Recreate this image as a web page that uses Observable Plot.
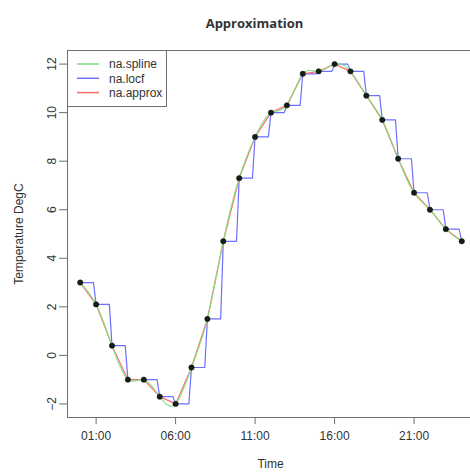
<!DOCTYPE html>
<html>
<head>
<meta charset="utf-8">
<script src="https://cdn.jsdelivr.net/npm/d3@7"></script>
<script src="https://cdn.jsdelivr.net/npm/@observablehq/plot@0.6"></script>
<style>
  html, body { margin: 0; padding: 0; background: #fff; }
  #chart svg { display: block; }
</style>
</head>
<body>
<div id="chart"></div>
<script>
// ---- data ----
const hours = [0, 1, 2, 3, 4, 5, 6, 7, 8, 9, 10, 11, 12, 13, 14, 15, 16, 17, 18, 19, 20, 21, 22, 23, 24];
const temps = [3.0, 2.1, 0.4, -1.0, -1.0, -1.7, -2.0, -0.5, 1.5, 4.7, 7.3, 9.0, 10.0, 10.3, 11.6, 11.7, 12.0, 11.7, 10.7, 9.7, 8.1, 6.7, 6.0, 5.2, 4.7];
const seriesNames = ["na.spline", "na.locf", "na.approx"];
const xTickHours = [1, 6, 11, 16, 21];
const yTickValues = [-2, 0, 2, 4, 6, 8, 10, 12];
const titleText = "Approximation";
const xLabel = "Time";
const yLabel = "Temperature DegC";

// locf is evaluated on a 10-minute grid: the last carried value holds until 10 min before the next reading
const LOCF_SAMPLE = 1 / 6;

// ---- styles ----
const seriesColors = {"na.spline": "#7ee07e", "na.locf": "#6e6eff", "na.approx": "#ff6e6e"};
const axisGray = "#6e6e6e";
const textColor = "#333";

// ---- derived tables ----
const obs = hours.map((t, i) => ({t, v: temps[i]}));
const locf = obs.flatMap((d, i) => i < obs.length - 1 ? [d, {t: obs[i + 1].t - LOCF_SAMPLE, v: d.v}] : [d]);
const fmtHour = h => String(h).padStart(2, "0") + ":00";

const W = 470, H = 475, mL = 67, mT = 50, mR = 0, mB = 58;

const chart = Plot.plot({
  width: W, height: H,
  marginLeft: mL, marginTop: mT, marginRight: mR, marginBottom: mB,
  style: {fontFamily: "'Liberation Sans', Arial, sans-serif", fontSize: "12px", color: textColor, background: "#fff", overflow: "visible"},
  x: {domain: [-0.8, 24.55]},
  y: {domain: [-2.56, 12.56]},
  marks: [
    Plot.axisX(xTickHours, {tickSize: 7, tickPadding: 7, tickFormat: fmtHour, stroke: axisGray, fill: textColor, label: null, fontSize: 12}),
    Plot.axisY(yTickValues, {tickSize: 8, tickPadding: 4, tickRotate: -90, stroke: axisGray, fill: textColor, label: null, fontSize: 12}),
    Plot.line(locf, {x: "t", y: "v", stroke: seriesColors["na.locf"], strokeWidth: 1.2}),
    Plot.line(obs, {x: "t", y: "v", stroke: seriesColors["na.approx"], strokeWidth: 1.2}),
    Plot.line(obs, {x: "t", y: "v", curve: "natural", stroke: seriesColors["na.spline"], strokeWidth: 1.2, strokeOpacity: 0.9}),
    Plot.dot(obs, {x: "t", y: "v", r: 2.7, fill: "#122012", stroke: "#0a140a", strokeWidth: 0.5}),
    Plot.frame({stroke: axisGray, strokeWidth: 1}),
    Plot.text([titleText], {frameAnchor: "top-left", textAnchor: "middle", dx: 187, dy: -32, fontFamily: "'Open Sans', sans-serif", fontWeight: "bold", fontSize: 13, fill: "#333"}),
    Plot.text([xLabel], {frameAnchor: "bottom", textAnchor: "middle", dx: 1.5, dy: 50, fontSize: 12, fill: textColor}),
    Plot.text([yLabel], {frameAnchor: "left", textAnchor: "middle", dx: -48, rotate: -90, fontSize: 12, fill: textColor})
  ]
});

document.getElementById("chart").appendChild(chart);

// ---- legend (top-left inside the plot box) ----
const svg = d3.select(chart);
const lg = svg.append("g").attr("font-family", "'Liberation Sans', Arial, sans-serif").attr("font-size", 12).attr("text-anchor", "start");
const lx = mL, ly = mT, lw = 99, lh = 56;
lg.append("rect").attr("x", lx + 0.5).attr("y", ly + 0.5).attr("width", lw).attr("height", lh)
  .attr("fill", "#fff").attr("stroke", axisGray);
seriesNames.forEach((name, i) => {
  const yy = ly + 14 + i * 14.3;
  lg.append("line").attr("x1", lx + 10).attr("x2", lx + 32).attr("y1", yy).attr("y2", yy)
    .attr("stroke", seriesColors[name]).attr("stroke-width", 1.5);
  lg.append("text").attr("x", lx + 42).attr("y", yy).attr("dy", "0.35em")
    .attr("text-anchor", "start").attr("fill", textColor).text(name);
});
</script>
</body>
</html>
